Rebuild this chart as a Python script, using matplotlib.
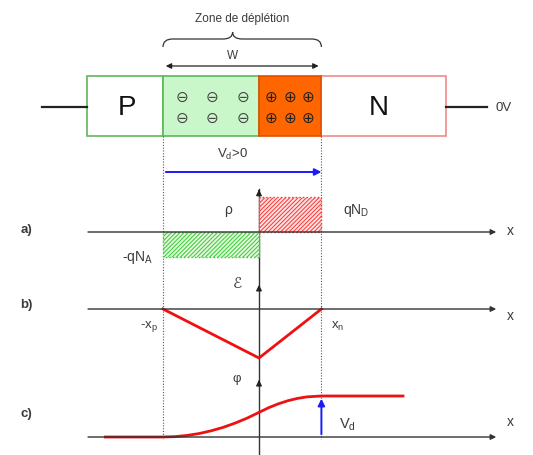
import numpy as np
import matplotlib
matplotlib.use("Agg")
import matplotlib.pyplot as plt
from matplotlib.patches import Rectangle, PathPatch
from matplotlib.path import Path

# ---------------- data (normalised units, junction at x = 0) ----------------
region_edges = [-1.79, -1.0, 0.0, 0.65, 1.95]   # P contact, -x_p, junction, x_n, N contact
rho_p = -0.71          # -qN_A
rho_n = 1.0            # qN_D
field_x = [-1.0, 0.0, 0.65]
field_y = [0.0, -1.0, 0.0]
phi_x = [-1.6, -1.0, -0.875, -0.75, -0.625, -0.5, -0.375, -0.25, -0.125, 0.0,
         0.1, 0.2, 0.3, 0.4, 0.5, 0.65, 1.5]
phi_y = [0.0, 0.0, 0.009, 0.038, 0.084, 0.15, 0.234, 0.338, 0.459, 0.6,
         0.714, 0.808, 0.884, 0.941, 0.979, 1.0, 1.0]
v_d = 1.0
labels = {"zone": "Zone de déplétion", "w": "W", "p": "P", "n": "N", "v0": "0V",
          "vd_pos": r"V$_\mathregular{d}$>0", "rho": "ρ", "qnd": r"qN$_\mathregular{D}$",
          "qna": r"-qN$_\mathregular{A}$", "E": "ℰ", "phi": "φ",
          "xp": r"-x$_\mathregular{p}$", "xn": r"x$_\mathregular{n}$", "vd": r"V$_\mathregular{d}$"}

# ---------------- layout ----------------
W, H = 533, 456
PX = 96.0             # pixels per x unit
X0 = 259.0            # junction pixel
xlim = (-X0 / PX, (W - X0) / PX)

plt.rcParams['font.family'] = ['Liberation Sans', 'DejaVu Sans']
plt.rcParams['mathtext.fontset'] = 'custom'
plt.rcParams['mathtext.rm'] = 'Liberation Sans'
plt.rcParams['hatch.linewidth'] = 0.7
fig = plt.figure(figsize=(W / 100, H / 100), dpi=100)
bg = fig.add_axes([0, 0, 1, 1])
bg.set_xlim(*xlim)
bg.set_ylim(H, 0)
bg.axis('off')

TXT = '#3a3a3a'
GREEN = '#5cb85c'
LGREEN = '#c9f7c9'
ORANGE = '#ff6600'
LRED = '#f08a8a'
RED = '#ee1111'
BLUE = '#1a1aff'

# ---- top block diagram ----
top, bot = 77, 137
xa, xb, xc, xd, xe = region_edges
bg.add_patch(Rectangle((xa, top), xb - xa, bot - top, fc='white', ec=GREEN, lw=1.2))
bg.add_patch(Rectangle((xd, top), xe - xd, bot - top, fc='white', ec=LRED, lw=1.2))
bg.add_patch(Rectangle((xb, top), xc - xb, bot - top, fc=LGREEN, ec=GREEN, lw=1.2))
bg.add_patch(Rectangle((xc, top), xd - xc, bot - top, fc=ORANGE, ec='#e05000', lw=1.2))
bg.plot([xa - 0.47, xa], [108, 108], color='#222222', lw=1.6)
bg.plot([xe, xe + 0.42], [108, 108], color='#222222', lw=1.6)
bg.text(xe + 0.6, 108, labels["v0"], ha='center', va='center', fontsize=9.5, color=TXT)
bg.text((xa + xb) / 2 + 0.02, 108, labels["p"], ha='center', va='center', fontsize=20, color='#111111')
bg.text((xd + xe) / 2 - 0.05, 108, labels["n"], ha='center', va='center', fontsize=20, color='#111111')
for yy in (97, 118):
    for xx in np.linspace(xb + 0.2, xc - 0.17, 3):
        bg.text(xx, yy, '⊖', ha='center', va='center', fontsize=11, color='#444444',
                family='DejaVu Sans')
    for xx in np.linspace(xc + 0.13, xd - 0.14, 3):
        bg.text(xx, yy, '⊕', ha='center', va='center', fontsize=11, color='#222222',
                family='DejaVu Sans')

# brace + W
bg.text((xb + xd) / 2, 19, labels["zone"], ha='center', va='center', fontsize=8.5, color=TXT)
mid = (xb + xd) / 2 - 0.1
brace = Path([(xb, 48), (xb, 40), (xb + 0.1, 40),
              (mid - 0.1, 40), (mid, 40), (mid, 33),
              (mid, 40), (mid + 0.1, 40),
              (xd - 0.1, 40), (xd, 40), (xd, 48)],
             [Path.MOVETO, Path.CURVE3, Path.CURVE3,
              Path.LINETO, Path.CURVE3, Path.CURVE3,
              Path.CURVE3, Path.CURVE3,
              Path.LINETO, Path.CURVE3, Path.CURVE3])
bg.add_patch(PathPatch(brace, fc='none', ec='#333333', lw=0.9))
bg.text((xb + xd) / 2 - 0.1, 56, labels["w"], ha='center', va='center', fontsize=8.5, color=TXT)
bg.annotate('', xy=(xd, 67), xytext=(xb, 67),
            arrowprops=dict(arrowstyle='<|-|>', color='#222222', lw=0.9, mutation_scale=8))

# dotted guides
for xx in (xb, xd):
    bg.plot([xx, xx], [bot, 440], color='#555555', lw=0.8, ls=(0, (1, 1.5)))

# Vd>0 arrow
bg.text((xb + xd) / 2 - 0.1, 154, labels["vd_pos"], ha='center', va='center', fontsize=9.5, color=TXT)
bg.annotate('', xy=(xd + 0.03, 173), xytext=(xb, 173),
            arrowprops=dict(arrowstyle='-|>', color=BLUE, lw=1.4, mutation_scale=10))

# central vertical axis
bg.plot([0, 0], [190, H], color='#333333', lw=1.0)


def panel(top_px, bot_px, base_px, scale_px):
    ax = fig.add_axes([0, 1 - bot_px / H, 1, (bot_px - top_px) / H])
    ax.set_xlim(*xlim)
    ax.set_ylim(-(bot_px - base_px) / scale_px, (base_px - top_px) / scale_px)
    ax.axis('off')
    ax.patch.set_alpha(0)
    return ax


def x_axis(ax, ylab):
    ax.annotate('', xy=(2.5, 0), xytext=(-1.81, 0),
                arrowprops=dict(arrowstyle='-|>', color='#333333', lw=1.0, mutation_scale=8))
    ax.text(2.62, ylab, 'x', ha='center', va='center', fontsize=10, color=TXT)


def y_arrow(ax, ytip):
    ax.annotate('', xy=(0, ytip), xytext=(0, ytip - 0.2),
                arrowprops=dict(arrowstyle='-|>', color='#222222', lw=1.0, mutation_scale=8))

# ---- a) charge density ----
axa = panel(180, 272, 233, 35)
axa.bar([xb], [rho_p], width=xc - xb, align='edge', color='#e4f8dc', edgecolor='#33cc33',
        hatch='////////', lw=1.0, ls=':')
axa.bar([xc], [rho_n], width=xd - xc, align='edge', color='#fde2e2', edgecolor='#ff3333',
        hatch='////////', lw=1.0, ls=':')
x_axis(axa, 0.05)
y_arrow(axa, 1.29)
axa.text(-0.32, 0.65, labels["rho"], ha='center', va='center', fontsize=10, color=TXT)
axa.text(xd + 0.36, 0.65, labels["qnd"], ha='center', va='center', fontsize=10, color=TXT)
axa.text(xb - 0.27, rho_p, labels["qna"], ha='center', va='center', fontsize=10, color=TXT)
bg.text(-2.42, 230, 'a)', ha='center', va='center', fontsize=9.5, fontweight='bold', color=TXT)

# ---- b) electric field ----
axb = panel(275, 370, 310, 49)
axb.plot(field_x, field_y, color=RED, lw=2.0, solid_joinstyle='miter')
x_axis(axb, -0.12)
y_arrow(axb, 0.55)
axb.text(-0.23, 0.55, labels["E"], ha='center', va='center', fontsize=11, color=TXT,
         family='DejaVu Sans', fontstyle='italic')
axb.text(xb - 0.15, -0.33, labels["xp"], ha='center', va='center', fontsize=9.5, color=TXT)
axb.text(xd + 0.17, -0.33, labels["xn"], ha='center', va='center', fontsize=9.5, color=TXT)
bg.text(-2.42, 305, 'b)', ha='center', va='center', fontsize=9.5, fontweight='bold', color=TXT)

# ---- c) potential ----
axc = panel(372, 456, 438, 41)
axc.plot(phi_x, phi_y, color=RED, lw=2.0)
x_axis(axc, 0.39)
y_arrow(axc, 1.46)
axc.text(-0.23, 1.43, labels["phi"], ha='center', va='center', fontsize=9.5, color=TXT)
axc.annotate('', xy=(xd, v_d), xytext=(xd, 0),
             arrowprops=dict(arrowstyle='-|>', color=BLUE, lw=1.4, mutation_scale=10))
axc.text(xd + 0.27, 0.32, labels["vd"], ha='center', va='center', fontsize=10.5, color=TXT)
bg.text(-2.42, 414, 'c)', ha='center', va='center', fontsize=9.5, fontweight='bold', color=TXT)

fig.savefig('out.png', dpi=100)
